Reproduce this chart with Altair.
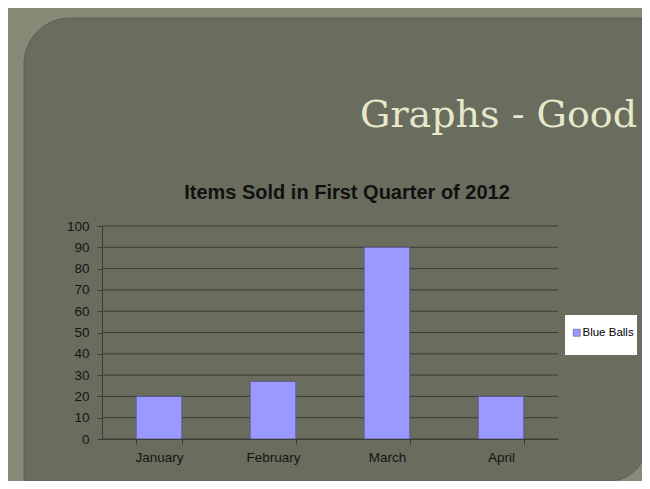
import altair as alt
import pandas as pd

months = ["January", "February", "March", "April"]
values = [20, 27, 90, 20]
series_name = "Blue Balls"
y_ticks = [0, 10, 20, 30, 40, 50, 60, 70, 80, 90, 100]
slide_title = "Graphs - Good"
chart_title = "Items Sold in First Quarter of 2012"

df = pd.DataFrame({"month": months, "value": values, "series": [series_name] * len(months)})
grid_df = pd.DataFrame({"value": y_ticks})

FONT = "Liberation Sans"
DARK = "#3b3c36"
one = alt.Data(values=[{}])

y_axis = alt.Axis(
    title=None, values=y_ticks, grid=False,
    domainColor=DARK, tickColor=DARK, tickSize=5, labelPadding=8,
    labelFont=FONT, labelFontSize=13.5, labelColor="#151515", zindex=1,
)

inner = alt.Chart(one).mark_rect(
    fill="#6a6c5e", stroke="#5f6154", strokeWidth=1,
    cornerRadiusTopLeft=46, cornerRadiusBottomRight=38,
).encode(x=alt.value(-78), x2=alt.value(545), y=alt.value(-208), y2=alt.value(255))

title_main = alt.Chart(one).mark_text(
    text=slide_title, font="DejaVu Serif", fontSize=38, align="right",
    baseline="alphabetic", color="#e6e8cc",
).encode(x=alt.value(535), y=alt.value(-99))

ctitle = alt.Chart(one).mark_text(
    text=chart_title, font=FONT, fontSize=20, fontWeight="bold",
    align="center", baseline="middle", color="#111111",
).encode(x=alt.value(245), y=alt.value(-33))

legend_box = alt.Chart(one).mark_rect(fill="white").encode(
    x=alt.value(463), x2=alt.value(535), y=alt.value(89), y2=alt.value(129)
)

grid = alt.Chart(grid_df).mark_rule(color=DARK, strokeWidth=1).encode(
    y=alt.Y("value:Q", scale=alt.Scale(domain=[0, 100]), axis=y_axis)
)

bars = alt.Chart(df).mark_bar(stroke="#55558a", strokeWidth=0.8).encode(
    x=alt.X(
        "month:N", sort=months,
        scale=alt.Scale(paddingInner=0.6, paddingOuter=0.3),
        axis=alt.Axis(
            title=None, labelAngle=0, tickBand="extent", grid=False,
            domainColor=DARK, tickColor=DARK, tickSize=5, labelPadding=6,
            labelFont=FONT, labelFontSize=13.5, labelColor="#151515", zindex=1,
        ),
    ),
    y=alt.Y("value:Q", scale=alt.Scale(domain=[0, 100]), axis=y_axis),
    color=alt.Color(
        "series:N", scale=alt.Scale(range=["#9999ff"]),
        legend=alt.Legend(
            title=None, orient="none", legendX=469, legendY=101, padding=0,
            symbolType="square", symbolSize=49, symbolStrokeColor="#55558a",
            symbolStrokeWidth=0.6, labelFont=FONT, labelFontSize=11.5,
            labelColor="#000000", labelOffset=0,
        ),
    ),
)

chart = alt.layer(inner, title_main, ctitle, legend_box, grid, bars).properties(
    width=456, height=213,
    background="#878a77",
    autosize=alt.AutoSizeParams(type="none"),
    padding={"left": 94, "top": 218, "right": 84, "bottom": 42},
).configure_view(stroke=None)

chart.save("out.html", embed_options={"renderer": "svg", "actions": False})
